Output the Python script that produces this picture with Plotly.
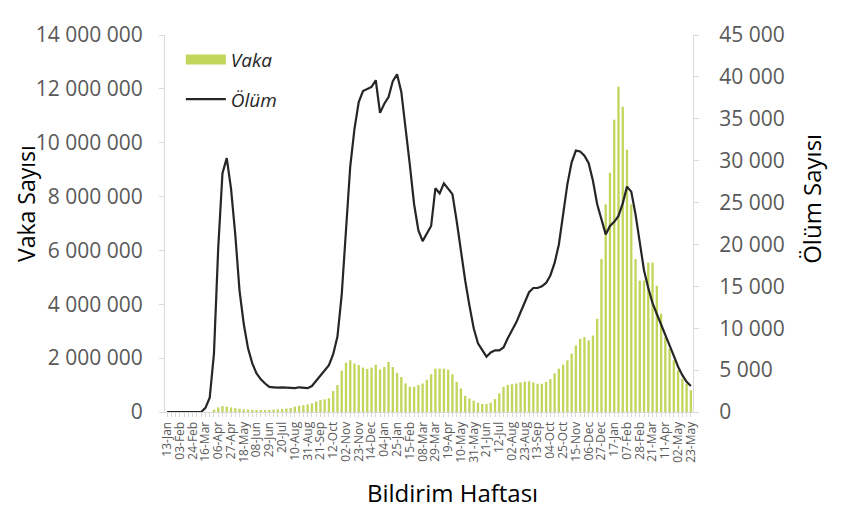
import pandas as pd
import plotly.graph_objects as go

# Weekly notification weeks (Mondays), 13-Jan-2020 .. 23-May-2022
weeks = [d.strftime("%Y-%m-%d") for d in pd.date_range("2020-01-13", periods=124, freq="7D")]

tick_labels = ["13-Jan", "03-Feb", "24-Feb", "16-Mar", "06-Apr", "27-Apr", "18-May", "08-Jun",
               "29-Jun", "20-Jul", "10-Aug", "31-Aug", "21-Sep", "12-Oct", "02-Nov", "23-Nov",
               "14-Dec", "04-Jan", "25-Jan", "15-Feb", "08-Mar", "29-Mar", "19-Apr", "10-May",
               "31-May", "21-Jun", "12-Jul", "02-Aug", "23-Aug", "13-Sep", "04-Oct", "25-Oct",
               "15-Nov", "06-Dec", "27-Dec", "17-Jan", "07-Feb", "28-Feb", "21-Mar", "11-Apr",
               "02-May", "23-May"]

# Vaka (cases), weekly
vaka = [0, 0, 0, 0, 0, 0, 0, 0, 0, 0,
        0, 90000, 170000, 220000, 200000, 170000, 140000, 120000, 100000, 90000,
        80000, 75000, 70000, 75000, 80000, 90000, 100000, 110000, 130000, 150000,
        200000, 230000, 250000, 280000, 320000, 390000, 440000, 470000, 510000, 780000,
        1000000, 1530000, 1830000, 1920000, 1800000, 1740000, 1650000, 1600000, 1650000, 1760000,
        1580000, 1670000, 1860000, 1670000, 1450000, 1300000, 1060000, 935000, 935000, 1000000,
        1060000, 1200000, 1400000, 1610000, 1610000, 1610000, 1570000, 1400000, 1120000, 875000,
        600000, 505000, 420000, 345000, 300000, 300000, 345000, 480000, 690000, 935000,
        1000000, 1030000, 1060000, 1100000, 1130000, 1140000, 1100000, 1050000, 1050000, 1120000,
        1220000, 1430000, 1610000, 1760000, 1920000, 2170000, 2470000, 2720000, 2780000, 2660000,
        2840000, 3460000, 5680000, 7710000, 8880000, 10850000, 12080000, 11340000, 9740000, 7710000,
        5680000, 4880000, 4880000, 5550000, 5550000, 4690000, 3650000, 2780000, 2350000, 1920000,
        1550000, 1240000, 1050000, 810000]

# Ölüm (deaths), weekly
olum = [0, 0, 0, 0, 0, 0, 0, 0, 0, 500,
        1700, 7000, 19600, 28500, 30300, 26700, 21200, 14500, 10500, 7600,
        5800, 4600, 3900, 3400, 3000, 2950, 2900, 2950, 2900, 2850,
        2850, 2950, 2900, 2850, 3100, 3700, 4300, 5000, 5600, 6900,
        9000, 14000, 21500, 29300, 33800, 37000, 38300, 38600, 38800, 39600,
        35700, 36800, 37600, 39500, 40300, 38200, 34000, 29500, 24800, 21700,
        20400, 21300, 22200, 26700, 26100, 27300, 26700, 26000, 22800, 19000,
        15700, 12700, 10000, 8200, 7360, 6600, 7100, 7360, 7360, 7700,
        8800, 9700, 10700, 11900, 13100, 14300, 14800, 14800, 15000, 15400,
        16300, 17800, 20000, 23500, 27200, 29800, 31200, 31100, 30600, 29700,
        27600, 24800, 23100, 21200, 22200, 22700, 23400, 24900, 26900, 26300,
        23600, 20000, 16900, 14800, 13000, 11700, 10500, 9100, 7900, 6700,
        5400, 4400, 3600, 3100]

FONT = "Open Sans"
GRAY = "#595959"
AXIS = "#d9d9d9"
BAR = "#c2d65c"

tickvals = weeks
ticktext = [tick_labels[i // 3] if i % 3 == 0 else "" for i in range(len(weeks))]

fig = go.Figure()
fig.add_trace(go.Bar(x=weeks, y=vaka, name="Vaka", marker=dict(color=BAR, line=dict(width=0)),
                     yaxis="y", showlegend=False))
# legend key for the bars (wide swatch, as in the original legend)
fig.add_trace(go.Scatter(x=[None], y=[None], mode="lines", name="<i>Vaka</i>",
                         line=dict(color=BAR, width=10), legendgroup="a"))
fig.add_trace(go.Scatter(x=weeks, y=olum, name="<i>Ölüm</i>", mode="lines",
                         line=dict(color="#262626", width=2.2), yaxis="y2", legendgroup="b"))

fig.update_layout(
    width=825, height=500,
    margin=dict(l=157, r=140, t=25, b=96),
    paper_bgcolor="white", plot_bgcolor="white",
    separators=". ",
    bargap=0.45,
    font=dict(family=FONT, color=GRAY),
    showlegend=True,
    legend=dict(x=0.03, y=0.985, xanchor="left", yanchor="top", bgcolor="rgba(0,0,0,0)",
                font=dict(family=FONT, size=19, color="#262626"), tracegroupgap=12,
                itemwidth=40),
    xaxis=dict(type="category", tickmode="array", tickvals=tickvals, ticktext=ticktext,
               tickangle=-90, tickfont=dict(size=12, color=GRAY), showgrid=False,
               showline=True, linecolor=AXIS, linewidth=1, ticks="outside", ticklen=4,
               tickcolor=AXIS, range=[-0.5, len(weeks) - 0.5]),
    yaxis=dict(range=[0, 14000000], dtick=2000000, tickformat=",d", showgrid=False,
               showline=True, linecolor=AXIS, ticks="outside", ticklen=5, tickcolor=AXIS,
               ticklabelstandoff=12,
               tickfont=dict(size=21, color=GRAY), zeroline=False),
    yaxis2=dict(range=[0, 45000], dtick=5000, tickformat=",d", overlaying="y", side="right",
                showgrid=False, showline=True, linecolor=AXIS, ticks="outside", ticklen=5,
                tickcolor=AXIS, ticklabelstandoff=16, tickfont=dict(size=21, color=GRAY), zeroline=False),
    annotations=[
        dict(text="Vaka Sayısı", xref="paper", yref="paper", x=-0.263, y=0.552, textangle=-90,
             showarrow=False, font=dict(family=FONT, size=23, color="#000000"),
             xanchor="center", yanchor="middle"),
        dict(text="Ölüm Sayısı", xref="paper", yref="paper", x=1.225, y=0.565, textangle=-90,
             showarrow=False, font=dict(family=FONT, size=24, color="#000000"),
             xanchor="center", yanchor="middle"),
        dict(text="Bildirim Haftası", xref="paper", yref="paper", x=0.545, y=-0.214,
             showarrow=False, font=dict(family=FONT, size=24, color="#000000"),
             xanchor="center", yanchor="middle"),
    ],
)

fig.write_html("out.html")
